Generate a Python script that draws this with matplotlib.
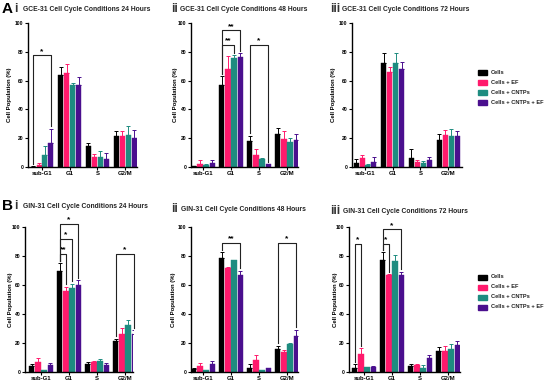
import matplotlib
matplotlib.use("Agg")
import matplotlib.pyplot as plt
import numpy as np

plt.rcParams['font.family'] = ['Liberation Sans', 'DejaVu Sans']
plt.rcParams['font.weight'] = 'bold'

phases = ["sub-G1", "G1", "S", "G2/M"]
series = ["Cells", "Cells + EF", "Cells + CNTPs", "Cells + CNTPs + EF"]
colors = ["#000000", "#FF1A6C", "#1E8C80", "#4A0F8E"]
yticks = [0, 20, 40, 60, 80, 100]

# rows: Cells, EF, CNTPs, CNTPs+EF ; columns: sub-G1, G1, S, G2/M
gce24_mean = [[0.3, 63.9, 14.4, 21.3], [1.6, 65.3, 7.2, 21.3], [8.3, 57.2, 7.2, 22.5], [16.7, 57.2, 5.6, 20.4]]
gce24_err = [[0.3, 5.8, 2.5, 4.0], [1.4, 6.0, 2.0, 3.5], [6.0, 1.4, 3.7, 5.8], [10.0, 5.5, 4.0, 5.5]]
gce48_mean = [[0.7, 57.0, 17.8, 22.9], [2.3, 68.4, 8.5, 19.4], [1.2, 75.8, 5.3, 17.1], [3.0, 76.2, 1.8, 18.7]]
gce48_err = [[0.3, 6.3, 4.0, 4.0], [2.8, 9.0, 3.7, 5.8], [1.0, 2.0, 1.2, 3.2], [1.6, 2.8, 0.5, 3.9]]
gce72_mean = [[2.8, 72.0, 6.2, 18.5], [6.0, 65.8, 3.5, 22.2], [1.6, 72.3, 2.5, 21.5], [3.7, 68.1, 4.8, 21.5]]
gce72_err = [[3.0, 7.2, 6.0, 4.2], [2.3, 3.7, 1.6, 3.2], [0.7, 7.0, 1.4, 4.8], [3.2, 5.0, 2.0, 3.7]]
gin24_mean = [[3.9, 69.7, 5.3, 21.2], [7.2, 56.1, 6.9, 26.3], [1.2, 58.2, 7.4, 32.6], [4.8, 60.3, 4.8, 25.9]]
gin24_err = [[1.8, 5.3, 1.6, 1.8], [2.3, 2.8, 0.7, 4.0], [0.3, 2.8, 1.8, 3.5], [1.4, 3.2, 1.4, 3.0]]
gin48_mean = [[1.8, 78.3, 3.0, 15.9], [3.9, 71.8, 8.1, 13.9], [1.2, 76.9, 1.2, 19.4], [5.3, 67.0, 2.8, 24.9]]
gin48_err = [[0.9, 4.4, 2.3, 2.3], [2.3, 0.5, 3.5, 1.6], [0.3, 0.5, 0.3, 0.3], [2.3, 3.0, 0.3, 4.4]]
gin72_mean = [[2.8, 77.5, 4.4, 14.8], [12.3, 66.7, 5.1, 14.6], [3.2, 76.6, 3.0, 16.0], [3.5, 66.7, 9.7, 18.3]]
gin72_err = [[2.5, 5.3, 0.9, 2.5], [4.4, 0.9, 0.3, 3.5], [0.3, 4.4, 1.6, 3.0], [0.3, 2.5, 2.1, 2.8]]

# significance brackets: (phase index, series a, series b, height, label)
gce24_sig = [(0, 0, 3, 77.5, "*")]
gce48_sig = [(1, 0, 2, 85, "**"), (1, 0, 3, 95, "**"), (2, 0, 3, 85, "*")]
gce72_sig = []
gin24_sig = [(1, 0, 1, 81.3, "**"), (1, 0, 2, 91.9, "*"), (1, 0, 3, 102.3, "*"), (3, 0, 3, 81.5, "*")]
gin48_sig = [(1, 0, 3, 88.9, "**"), (3, 0, 3, 88.9, "*")]
gin72_sig = [(0, 0, 1, 88.4, "*"), (1, 0, 1, 88.4, "*"), (1, 0, 3, 98.4, "*")]

W, H = 546, 382
fig = plt.figure(figsize=(W / 100, H / 100), dpi=100)

STEP = 0.215
BW = 0.18
offs = (np.arange(4) - 1.5) * STEP


def make_panel(axis_px, c0_px, sp_px, end_px, top_px, bot_px, mean, err, sig):
    ax = fig.add_axes([axis_px / W, (H - bot_px) / H, (end_px - axis_px) / W, (bot_px - top_px) / H])
    xl = -(c0_px - axis_px) / sp_px
    xr = 3 + (end_px - (c0_px + 3 * sp_px)) / sp_px
    x = np.arange(len(phases))
    for i in range(4):
        m = np.array(mean[i])
        e = np.array(err[i])
        ax.bar(x + offs[i], m, BW, color=colors[i], edgecolor=colors[i], linewidth=0.3, zorder=2)
        ax.errorbar(x + offs[i], m, yerr=[np.zeros_like(e), e], fmt='none', ecolor=colors[i],
                    elinewidth=0.7, capsize=1.3, capthick=0.7, zorder=3)
    for (p, a, b, h, lab) in sig:
        xa = p + offs[a]
        xb = p + offs[b]
        ya = mean[a][p] + err[a][p] + 1.5
        yb = mean[b][p] + err[b][p] + 1.5
        ax.plot([xa, xa, xb, xb], [ya, h, h, yb], color="#222222", lw=0.8, clip_on=False, zorder=4)
        ax.text((xa + xb) / 2, h + 0.3, lab, ha='center', va='bottom', fontsize=6,
                fontweight='bold', clip_on=False)
    ax.set_xlim(xl, xr)
    ax.set_ylim(0, 100)
    ax.set_xticks(x)
    ax.set_xticklabels(phases, fontsize=4.3, fontweight='bold')
    ax.set_yticks(yticks)
    ax.set_yticklabels([str(v) for v in yticks], fontsize=3.6, fontweight='bold')
    for s in ['top', 'right']:
        ax.spines[s].set_visible(False)
    for s in ['left', 'bottom']:
        ax.spines[s].set_linewidth(1.0)
    ax.tick_params(axis='both', length=2, width=0.8, pad=1.2)
    return ax


def ylab(x_px, y_px):
    fig.text(x_px / W, 1 - y_px / H, "Cell Population (%)", rotation=90, ha='center', va='center',
             fontsize=4.3, fontweight='bold')


def title(letter, roman, rx, tx, y_px, text):
    if letter:
        fig.text(2 / W, 1 - y_px / H, letter, ha='left', va='center', fontsize=11, fontweight='bold')
    fig.text(rx / W, 1 - y_px / H, roman, ha='left', va='center', fontsize=8.5, fontweight='bold',
             color="#333333")
    fig.text(tx / W, 1 - (y_px + 0.5) / H, text, ha='left', va='center', fontsize=4.85, fontweight='bold',
             color="#222222")


def legend(y_rows):
    for i, name in enumerate(series):
        yc = y_rows[i]
        fig.patches.append(plt.Rectangle((478 / W, 1 - (yc + 2.5) / H), 9 / W, 5 / H,
                                         transform=fig.transFigure, color=colors[i], figure=fig))
        fig.text(491 / W, 1 - yc / H, name, ha='left', va='center', fontsize=4.1, fontweight='bold',
                 color="#222222")


# Row A (GCE-31)
make_panel(28, 42, 27.7, 137, 23, 167, gce24_mean, gce24_err, gce24_sig)
make_panel(191, 203, 28.0, 298, 23, 167, gce48_mean, gce48_err, gce48_sig)
make_panel(352, 365, 27.7, 462, 23, 167, gce72_mean, gce72_err, gce72_sig)
# Row B (GIN-31)
make_panel(25, 41, 28.0, 133, 227, 372, gin24_mean, gin24_err, gin24_sig)
make_panel(191, 203, 28.0, 298, 227, 372, gin48_mean, gin48_err, gin48_sig)
make_panel(349, 364, 28.0, 460, 227, 372, gin72_mean, gin72_err, gin72_sig)

ylab(10, 95)
ylab(175, 95)
ylab(334, 95)
ylab(11, 300)
ylab(173, 300)
ylab(335, 300)

title("A", "i", 14, 23, 9, "GCE-31 Cell Cycle Conditions 24 Hours")
title(None, "ii", 171, 180, 9, "GCE-31 Cell Cycle Conditions 48 Hours")
title(None, "iii", 330, 342, 9, "GCE-31 Cell Cycle Conditions 72 Hours")
title("B", "i", 14, 23, 206, "GIN-31 Cell Cycle Conditions 24 Hours")
title(None, "ii", 171, 181, 209, "GIN-31 Cell Cycle Conditions 48 Hours")
title(None, "iii", 330, 343, 211, "GIN-31 Cell Cycle Conditions 72 Hours")

legend([72, 82, 92, 102])
legend([277, 287, 297, 307])

fig.savefig("out.png", dpi=100)
